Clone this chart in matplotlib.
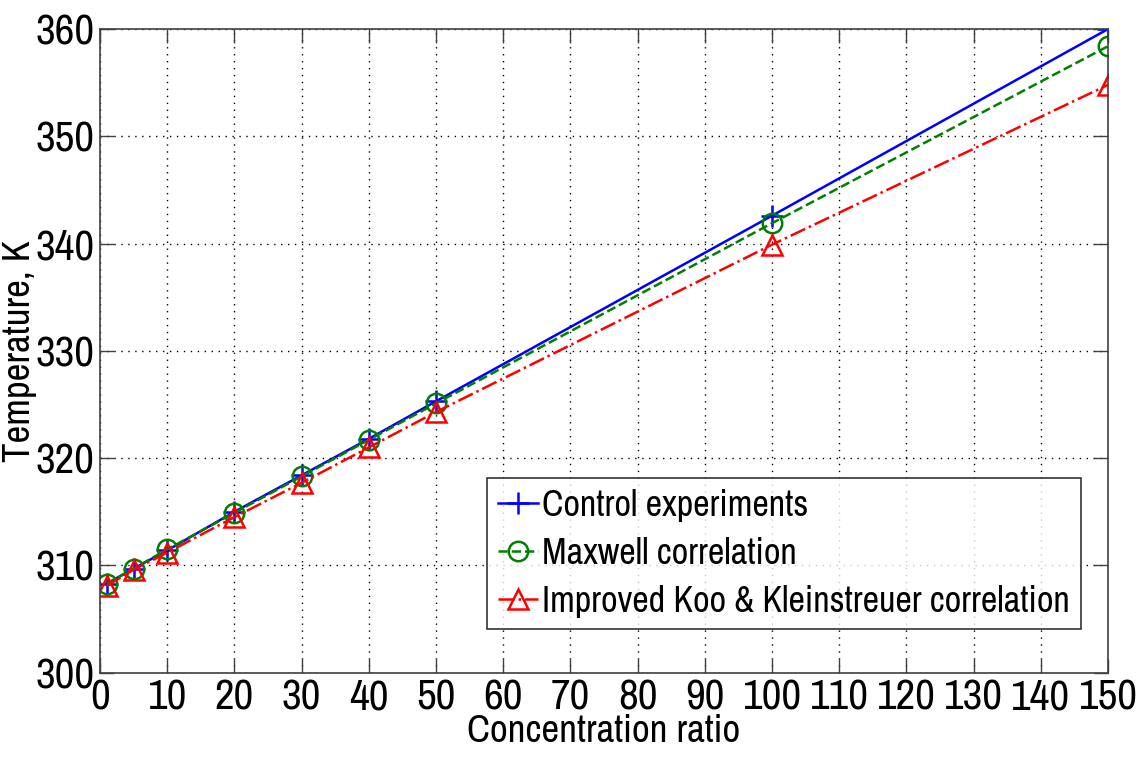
import matplotlib
matplotlib.use("Agg")
import matplotlib.pyplot as plt

# Concentration ratios and temperatures (K)
concentration = [1, 5, 10, 20, 30, 40, 50, 100, 150]
control_exp = [308.3, 309.7, 311.4, 315.0, 318.4, 321.8, 325.3, 342.6, 360.0]
maxwell = [308.3, 309.7, 311.5, 314.9, 318.3, 321.7, 325.1, 341.9, 358.4]
koo_kleinstreuer = [308.1, 309.6, 311.2, 314.5, 317.7, 321.0, 324.3, 339.9, 354.8]

x_ticks = list(range(0, 151, 10))
y_ticks = list(range(300, 361, 10))

plt.rcParams["font.family"] = ["Archivo Narrow", "Roboto Condensed", "Liberation Sans", "DejaVu Sans"]

fig = plt.figure(figsize=(11.41, 7.58), dpi=100)
ax = fig.add_axes([0.0876, 0.1125, 0.8835, 0.8492])

ax.plot(concentration, control_exp, color=(0, 0, 1), linestyle="-", linewidth=1.8,
        marker="+", markersize=16, markeredgewidth=1.8, label="Control experiments")
ax.plot(concentration, maxwell, color=(0, 0.5, 0), linestyle="--", linewidth=1.8,
        marker="o", markersize=14, markerfacecolor="none", markeredgewidth=1.8,
        label="Maxwell correlation")
ax.plot(concentration, koo_kleinstreuer, color=(1, 0, 0), linestyle="-.", linewidth=1.8,
        marker="^", markersize=15, markerfacecolor="none", markeredgewidth=1.8,
        label="Improved Koo & Kleinstreuer correlation")

ax.set_xlim(0, 150)
ax.set_ylim(300, 360)
ax.set_xticks(x_ticks)
ax.set_yticks(y_ticks)
ax.tick_params(direction="in", length=10, width=1, top=True, right=True,
               labelsize=31, pad=4, colors="#404040", labelcolor="black")
ax.grid(True, linestyle=(0, (1, 4)), color="black", linewidth=1)
for s in ax.spines.values():
    s.set_color("#404040")
    s.set_linewidth(1.2)

ax.set_xlabel("Concentration ratio", fontsize=28, labelpad=-2)
ax.set_ylabel("Temperature, K", fontsize=28)
ax.yaxis.set_label_coords(-0.062, 0.5)

leg = ax.legend(loc="lower right", bbox_to_anchor=(0.973, 0.068), fontsize=26,
                frameon=True, fancybox=False, edgecolor="black",
                handlelength=1.1, handletextpad=0.12, borderpad=0.3,
                labelspacing=0.42, borderaxespad=0)
leg.get_frame().set_linewidth(1.2)

fig.savefig("out.png", dpi=100)
